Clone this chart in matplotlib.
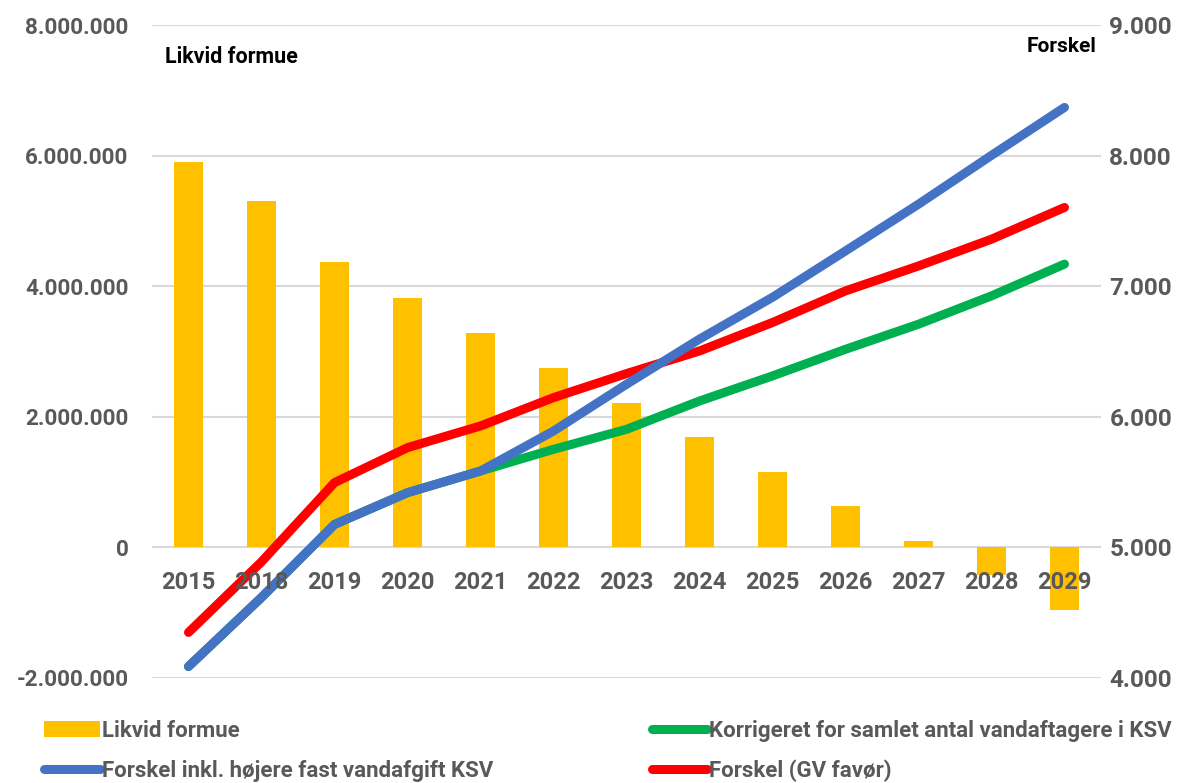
import matplotlib
matplotlib.use("Agg")
import matplotlib.pyplot as plt
import matplotlib.transforms as mtransforms
from matplotlib.ticker import FuncFormatter, MultipleLocator
from matplotlib.lines import Line2D
from matplotlib.patches import Patch

# data
years = ["2015", "2018", "2019", "2020", "2021", "2022", "2023",
         "2024", "2025", "2026", "2027", "2028", "2029"]
likvid_formue = [5896000, 5298000, 4373000, 3816000, 3290000, 2754000, 2218000,
                 1695000, 1159000, 628000, 95000, -430000, -960000]
forskel_hojere_fast = [4088, 4617, 5176, 5419, 5585, 5891, 6249,
                       6595, 6915, 7270, 7628, 8002, 8369]
korrigeret = [4088, 4617, 5176, 5419, 5585, 5751, 5904,
              6121, 6313, 6517, 6709, 6926, 7169]
forskel_gv = [4349, 4890, 5496, 5764, 5930, 6147, 6331,
              6504, 6722, 6964, 7155, 7360, 7603]

plt.rcParams['font.family'] = ['Roboto', 'DejaVu Sans']

gray = '#595959'
c_bar = '#FFC000'
c_blue = '#4472C4'
c_red = '#FF0000'
c_green = '#00B050'


def dotted(v, pos):
    return f"{int(round(v)):,}".replace(',', '.')


fig = plt.figure(figsize=(11.96, 7.83), dpi=100)
ax = fig.add_axes([152 / 1196, 1 - 678 / 783, (1101 - 152) / 1196, (678 - 25) / 783])
ax2 = ax.twinx()

x = list(range(len(years)))
ax.bar(x, likvid_formue, width=0.39, color=c_bar, zorder=2)
ax.set_ylim(-2000000, 8000000)
ax.set_xlim(-0.5, len(years) - 0.5)
ax.yaxis.set_major_locator(MultipleLocator(2000000))
ax.yaxis.set_major_formatter(FuncFormatter(dotted))
ax.grid(axis='y', color='#D9D9D9', linewidth=1.5, zorder=0)
ax.set_axisbelow(True)
ax.set_xticks([])
ax.tick_params(axis='y', length=0, pad=17, labelsize=16.2, labelcolor=gray)
for lab in ax.get_yticklabels():
    lab.set_fontweight('bold')
for s in ax.spines.values():
    s.set_visible(False)

lw = 6.5
ax2.plot(x, korrigeret, color=c_green, lw=lw, solid_capstyle='round', solid_joinstyle='round')
ax2.plot(x, forskel_gv, color=c_red, lw=lw, solid_capstyle='round', solid_joinstyle='round')
ax2.plot(x, forskel_hojere_fast, color=c_blue, lw=lw, solid_capstyle='round', solid_joinstyle='round')
ax2.set_ylim(4000, 9000)
ax2.yaxis.set_major_locator(MultipleLocator(1000))
ax2.yaxis.set_major_formatter(FuncFormatter(dotted))
ax2.tick_params(axis='y', length=0, pad=6, labelsize=17.5, labelcolor=gray)
for lab in ax2.get_yticklabels():
    lab.set_fontweight('bold')
for s in ax2.spines.values():
    s.set_visible(False)

# category labels sit just under the zero line of the left axis, on top of everything
lab_tr = mtransforms.offset_copy(ax.transData, fig=fig, y=-25, units='points')
for i, yr in enumerate(years):
    ax2.text(i, 0, yr, transform=lab_tr, ha='center', va='center', fontsize=17,
             fontweight='bold', color=gray, zorder=10, clip_on=False)

fig.text(165 / 1196, 1 - 57 / 783, "Likvid formue", fontsize=15.5, color='black',
         fontweight='bold', ha='left', va='center')
fig.text(1097 / 1196, 1 - 46 / 783, "Forskel", fontsize=15, color='black',
         fontweight='bold', ha='right', va='center')

handles = [
    Patch(facecolor=c_bar, label="Likvid formue"),
    Line2D([], [], color=c_blue, lw=lw, solid_capstyle='round', label="Forskel inkl. højere fast vandafgift KSV"),
    Line2D([], [], color=c_green, lw=lw, solid_capstyle='round', label="Korrigeret for samlet antal vandaftagere i KSV"),
    Line2D([], [], color=c_red, lw=lw, solid_capstyle='round', label="Forskel (GV favør)"),
]
leg = fig.legend(handles=handles, ncol=2, mode='expand', frameon=False,
                 bbox_to_anchor=(44 / 1196, 0.001, (1172 - 44) / 1196, 0.1),
                 loc='lower left', handlelength=2.5, handletextpad=0.1,
                 labelspacing=0.8, borderaxespad=0.0, borderpad=0.0,
                 prop={'size': 16, 'weight': 'bold'})
for t in leg.get_texts():
    t.set_color(gray)

fig.savefig("out.png", dpi=100)
